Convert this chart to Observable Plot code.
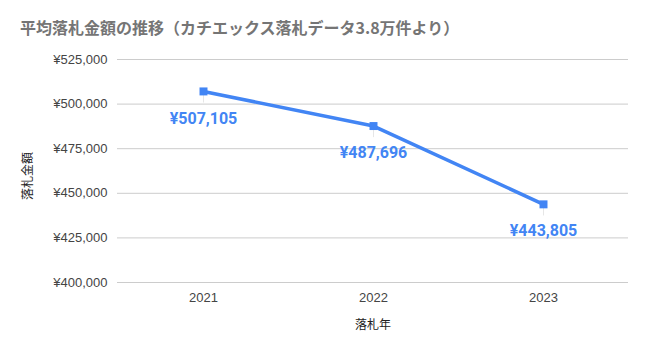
<!DOCTYPE html>
<html><head><meta charset="utf-8">
<script src="https://cdn.jsdelivr.net/npm/d3@7"></script>
<script src="https://cdn.jsdelivr.net/npm/@observablehq/plot@0.6"></script>
<style>
body{margin:0;background:#fff;font-family:Roboto,"Noto Sans CJK JP",sans-serif;}
#title{position:absolute;left:20px;top:15px;font-family:"Noto Sans CJK JP",sans-serif;font-weight:bold;font-size:16px;color:#757575;white-space:nowrap;}
#chart{position:absolute;left:0;top:45px;}
</style></head>
<body>
<div id="title">平均落札金額の推移（カチエックス落札データ3.8万件より）</div>
<div id="chart"></div>
<script>
const years = ["2021","2022","2023"];
const values = [507105, 487696, 443805];
const yTicks = [400000,425000,450000,475000,500000,525000];
const data = years.map((y,i)=>({year:y, value:values[i]}));
const yen = v => "¥" + d3.format(",")(v);
const blue = "#4285F4";
const plot = Plot.plot({
  width:647, height:310,
  marginLeft:117, marginRight:19, marginTop:14, marginBottom:73,
  style:{fontFamily:"'Liberation Sans', Arial, sans-serif", fontSize:"13px", color:"#444"},
  x:{type:"point", domain:years, padding:0.5, label:null, tickSize:0, tickPadding:10},
  y:{domain:[400000,525000], ticks:yTicks, tickFormat:yen, label:null, tickSize:0, tickPadding:10},
  marks:[
    Plot.gridY(yTicks,{stroke:"#cccccc", strokeOpacity:1}),
    Plot.ruleX(data,{x:"year", y1:"value", y2:d=>d.value-6500, stroke:"#e6e6e6", strokeWidth:1}),
    Plot.line(data,{x:"year", y:"value", stroke:blue, strokeWidth:3.5}),
    Plot.dot(data,{x:"year", y:"value", symbol:"square", fill:blue, r:4.5}),
    Plot.text(data,{x:"year", y:"value", text:d=>yen(d.value), dy:27, fill:blue, fontWeight:"bold", fontSize:16, fontFamily:"Roboto, sans-serif"}),
    Plot.text(["落札年"],{frameAnchor:"bottom", dy:46, fill:"#222", fontSize:12, fontFamily:"Noto Sans CJK JP"}),
    Plot.text(["落札金額"],{frameAnchor:"left", textAnchor:"middle", dx:-89, dy:5, rotate:-90, fill:"#222", fontSize:12, fontFamily:"Noto Sans CJK JP"})
  ]
});
document.getElementById("chart").appendChild(plot);
</script>
</body></html>
